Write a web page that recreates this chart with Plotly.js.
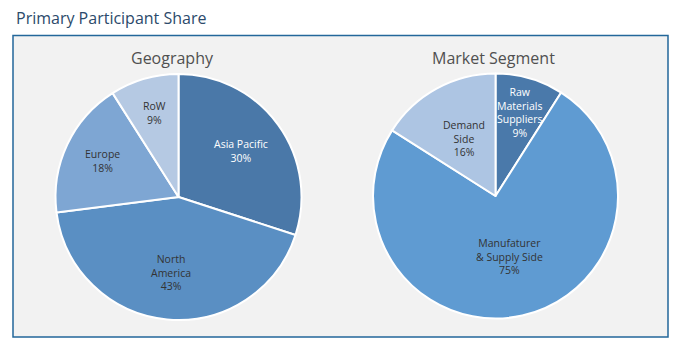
<!DOCTYPE html>
<html>
<head>
<meta charset="utf-8">
<script src="https://cdn.plot.ly/plotly-3.0.1.min.js"></script>
<style>html,body{margin:0;padding:0;background:#fff;}#chart{width:689px;height:352px;}</style>
</head>
<body>
<div id="chart"></div>
<script>
// Data
const chartTitle = "Primary Participant Share";
const geoTitle = "Geography";
const geoLabels = ["Asia Pacific", "North America", "Europe", "RoW"];
const geoText = ["Asia Pacific", "North<br>America", "Europe", "RoW"];
const geoValues = [30, 43, 18, 9];
const segTitle = "Market Segment";
const segLabels = ["Raw Materials Suppliers", "Manufaturer & Supply Side", "Demand Side"];
const segText = ["Raw<br>Materials<br>Suppliers", "Manufaturer<br>& Supply Side", "Demand<br>Side"];
const segValues = [9, 75, 16];

// Styles
const geoColors = ["#4a78a8", "#5a8fc3", "#7ea6d3", "#b5c9e3"];
const geoTextColors = ["#ffffff", "#333333", "#333333", "#333333"];
const geoLabelRadius = [0.63, 0.62, 0.68, 0.71];
const segColors = ["#4a79aa", "#5f9bd2", "#adc5e3"];
const segTextColors = ["#ffffff", "#333333", "#333333"];
const segLabelRadius = [0.71, 0.51, 0.54];

const W = 689, H = 352;
const font = "Open Sans, Liberation Sans, sans-serif";
const geoDomain = {x: [0.0806, 0.4376], y: [0.0909, 0.7898]};
const segDomain = {x: [0.5414, 0.8970], y: [0.0952, 0.7912]};

function pieTrace(labels, values, colors, domain) {
  return {
    type: "pie",
    labels: labels,
    values: values,
    textinfo: "none",
    sort: false,
    direction: "clockwise",
    rotation: 0,
    marker: {colors: colors, line: {color: "#ffffff", width: 2}},
    domain: domain,
    hoverinfo: "label+percent",
    showlegend: false
  };
}

// Label annotations placed along each slice's bisector (angles derived from the values)
function sliceLabels(text, values, domain, radii, colors) {
  const total = values.reduce((a, b) => a + b, 0);
  const cx = (domain.x[0] + domain.x[1]) / 2 * W;
  const cy = (domain.y[0] + domain.y[1]) / 2 * H;
  const R = Math.min((domain.x[1] - domain.x[0]) * W, (domain.y[1] - domain.y[0]) * H) / 2;
  let cum = 0;
  return values.map((v, i) => {
    const mid = (cum + v / 2) / total * 2 * Math.PI;
    cum += v;
    const px = cx + radii[i] * R * Math.sin(mid);
    const py = cy + radii[i] * R * Math.cos(mid);
    return {
      text: text[i] + "<br>" + v + "%",
      xref: "paper", yref: "paper", x: px / W, y: py / H,
      xanchor: "center", yanchor: "middle", showarrow: false,
      font: {family: font, size: 10.5, color: colors[i]}
    };
  });
}

const traces = [
  pieTrace(geoLabels, geoValues, geoColors, geoDomain),
  pieTrace(segLabels, segValues, segColors, segDomain)
];

const layout = {
  width: W,
  height: H,
  margin: {l: 0, r: 0, t: 0, b: 0},
  paper_bgcolor: "#ffffff",
  font: {family: font},
  title: {
    text: chartTitle,
    font: {family: font, size: 16, color: "#2c4a6b"},
    x: 16 / W, xanchor: "left", xref: "paper",
    y: 1 - 18 / H, yanchor: "middle", yref: "paper"
  },
  shapes: [
    {
      type: "rect", xref: "paper", yref: "paper", layer: "below",
      x0: 13 / W, x1: 668 / W, y0: 1 - 337 / H, y1: 1 - 35.5 / H,
      fillcolor: "#f2f2f2", line: {color: "#23679a", width: 1.5}
    }
  ],
  annotations: [
    {text: geoTitle, xref: "paper", yref: "paper", x: 173 / W, y: 1 - 58 / H,
     xanchor: "center", yanchor: "middle", showarrow: false,
     font: {family: font, size: 16, color: "#505050"}},
    {text: segTitle, xref: "paper", yref: "paper", x: 493.5 / W, y: 1 - 58 / H,
     xanchor: "center", yanchor: "middle", showarrow: false,
     font: {family: font, size: 16, color: "#505050"}}
  ].concat(
    sliceLabels(geoText, geoValues, geoDomain, geoLabelRadius, geoTextColors),
    sliceLabels(segText, segValues, segDomain, segLabelRadius, segTextColors)
  )
};

Plotly.newPlot("chart", traces, layout, {displayModeBar: false, staticPlot: true});
</script>
</body>
</html>
